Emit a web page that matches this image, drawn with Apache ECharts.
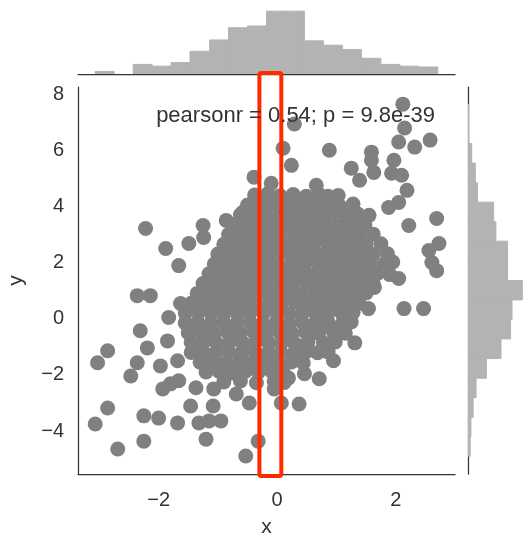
<!DOCTYPE html>
<html>
<head>
<meta charset="utf-8">
<style>
  html, body { margin: 0; padding: 0; background: #fff; }
  #chart { width: 523px; height: 534px; }
</style>
<script src="https://cdn.jsdelivr.net/npm/echarts@6/dist/echarts.min.js"></script>
</head>
<body>
<div id="chart"></div>
<script>
// marginal histogram of x: bin edges and counts
var xBinEdges = [-3.07, -2.75, -2.43, -2.11, -1.79, -1.47, -1.14, -0.82, -0.50, -0.18,
                 0.14, 0.46, 0.78, 1.10, 1.42, 1.75, 2.07, 2.39, 2.71];
var xCounts = [3, 0, 11, 9, 13, 26, 39, 53, 55, 72, 72, 38, 33, 28, 18, 11, 9, 8];

// marginal histogram of y (from bottom to top)
var yBinEdges = [-4.90, -4.20, -3.51, -2.81, -2.12, -1.42, -0.72, -0.03, 0.67, 1.36,
                 2.06, 2.76, 3.45, 4.15, 4.84, 5.54, 6.24, 6.93, 7.63];
var yCounts = [3, 4, 7, 11, 25, 45, 58, 60, 74, 54, 54, 38, 35, 13, 10, 5, 1, 1];

var xTicks = [-2, 0, 2];
var yTicks = [-4, -2, 0, 2, 4, 6, 8];
var statText = "pearsonr = 0.54; p = 9.8e-39";

// highlighted x band (the red box)
var bandX = [-0.30, 0.07];
var bandY = [-5.6, 8.75];

// scattered points away from the dense centre
var pointsOuter = [
  [2.12, 7.64], [0.29, 6.93], [2.15, 6.79], [2.05, 6.29], [2.32, 6.11], [2.58, 6.36],
  [0.88, 6.00], [0.10, 6.07], [1.59, 5.93], [1.59, 5.64], [1.97, 5.64], [1.25, 5.36],
  [1.63, 5.21], [1.93, 5.18], [2.10, 5.11], [1.39, 4.93], [2.19, 4.57], [0.66, 4.75],
  [1.03, 4.39], [1.88, 3.96], [2.05, 4.14], [2.69, 3.57], [2.22, 3.32], [2.56, 2.43],
  [2.73, 2.68], [2.69, 1.71], [2.61, 2.00], [0.24, 5.46], [-0.39, 5.04], [-0.10, 4.82],
  [-2.22, 3.21], [-1.88, 2.50], [-1.66, 1.89], [-1.49, 2.68], [-1.25, 3.32], [-1.24, 2.89],
  [-0.86, 3.50], [-0.58, 3.79],
  [-2.36, 0.82], [-2.14, 0.82], [-2.31, -0.43], [-2.86, -1.14], [-3.03, -1.57], [-2.47, -2.04],
  [-2.36, -1.57], [-2.19, -1.04], [-1.97, -1.68], [-1.83, 0.04], [-1.63, 0.54], [-1.85, -0.79],
  [-1.68, -1.50], [-1.93, -2.50], [-1.80, -2.32], [-1.66, -2.21], [-1.37, -2.46], [-1.46, -3.11],
  [-1.08, -3.11], [-1.07, -2.50], [-0.69, -2.68], [-0.47, -3.00], [-2.86, -3.18], [-3.07, -3.75],
  [-2.25, -3.46], [-2.00, -3.54], [-1.68, -3.71], [-1.32, -3.71], [-0.95, -3.64], [-1.15, -3.64],
  [-2.25, -4.36], [-2.69, -4.64], [-1.20, -4.29], [-0.53, -4.89], [-0.32, -4.36],
  [2.05, 1.43], [2.14, 0.36], [2.47, 0.36], [1.64, 1.11], [1.54, 0.36], [1.25, 0.29],
  [0.78, 0.18], [0.92, -0.32], [1.31, -0.86], [0.95, -1.50], [0.71, -2.14], [0.46, -1.96],
  [0.37, -3.04], [0.07, -3.00], [-0.05, -2.50], [0.19, -2.11]
];

// dense centre of the cloud
var pointsCore = [
  [-0.38, 4.40], [-0.16, 4.45], [0.05, 4.38], [0.27, 4.42], [0.49, 4.36], [0.70, 4.44], [0.86, 4.36],
  [-0.50, 4.05], [-0.28, 4.02], [-0.06, 4.08], [0.16, 4.03], [0.38, 4.07], [0.60, 4.01], [0.82, 4.06], [1.05, 4.02], [1.28, 4.08],
  [-0.62, 3.70], [-0.40, 3.72], [-0.18, 3.66], [0.04, 3.71], [0.26, 3.68], [0.48, 3.73], [0.70, 3.67], [0.92, 3.72], [1.14, 3.69], [1.35, 3.74], [1.55, 3.68],
  [-0.72, 3.35], [-0.50, 3.32], [-0.28, 3.38], [-0.06, 3.33], [0.16, 3.36], [0.38, 3.31], [0.60, 3.37], [0.82, 3.34], [1.04, 3.30], [1.26, 3.36], [1.48, 3.33],
  [-0.82, 3.00], [-0.60, 3.03], [-0.38, 2.97], [-0.16, 3.02], [0.06, 2.98], [0.28, 3.04], [0.50, 2.99], [0.72, 3.02], [0.94, 2.96], [1.16, 3.03], [1.38, 2.98], [1.62, 3.01],
  [-0.90, 2.65], [-0.70, 2.62], [-0.48, 2.68], [-0.26, 2.63], [-0.04, 2.66], [0.18, 2.61], [0.40, 2.67], [0.62, 2.64], [0.84, 2.69], [1.06, 2.62], [1.28, 2.66], [1.50, 2.63], [1.75, 2.67],
  [-1.00, 2.30], [-0.80, 2.33], [-0.58, 2.27], [-0.36, 2.31], [-0.14, 2.28], [0.08, 2.34], [0.30, 2.29], [0.52, 2.32], [0.74, 2.26], [0.96, 2.31], [1.18, 2.28], [1.40, 2.33], [1.62, 2.29], [1.86, 2.31],
  [-1.06, 1.95], [-0.86, 1.92], [-0.64, 1.98], [-0.42, 1.93], [-0.20, 1.96], [0.02, 1.91], [0.24, 1.97], [0.46, 1.94], [0.68, 1.99], [0.90, 1.92], [1.12, 1.96], [1.34, 1.93], [1.56, 1.98], [1.80, 1.94], [1.95, 2.02],
  [-1.15, 1.60], [-0.95, 1.63], [-0.73, 1.57], [-0.51, 1.61], [-0.29, 1.58], [-0.07, 1.64], [0.15, 1.59], [0.37, 1.62], [0.59, 1.56], [0.81, 1.61], [1.03, 1.58], [1.25, 1.63], [1.47, 1.59], [1.70, 1.62], [1.90, 1.57],
  [-1.25, 1.25], [-1.04, 1.22], [-0.82, 1.28], [-0.60, 1.23], [-0.38, 1.26], [-0.16, 1.21], [0.06, 1.27], [0.28, 1.24], [0.50, 1.29], [0.72, 1.22], [0.94, 1.26], [1.16, 1.23], [1.38, 1.28], [1.62, 1.24],
  [-1.35, 0.90], [-1.13, 0.93], [-0.91, 0.87], [-0.69, 0.91], [-0.47, 0.88], [-0.25, 0.94], [-0.03, 0.89], [0.19, 0.92], [0.41, 0.86], [0.63, 0.91], [0.85, 0.88], [1.07, 0.93], [1.29, 0.89], [1.50, 0.92],
  [-1.45, 0.55], [-1.24, 0.52], [-1.02, 0.58], [-0.80, 0.53], [-0.58, 0.56], [-0.36, 0.51], [-0.14, 0.57], [0.08, 0.54], [0.30, 0.59], [0.52, 0.52], [0.74, 0.56], [0.96, 0.53], [1.18, 0.58], [1.38, 0.54],
  [-1.55, 0.20], [-1.33, 0.23], [-1.11, 0.17], [-0.89, 0.21], [-0.67, 0.18], [-0.45, 0.24], [-0.23, 0.19], [-0.01, 0.22], [0.21, 0.16], [0.43, 0.21], [0.65, 0.18], [0.87, 0.23], [1.09, 0.19], [1.28, 0.22],
  [-1.55, -0.15], [-1.34, -0.12], [-1.12, -0.18], [-0.90, -0.13], [-0.68, -0.16], [-0.46, -0.11], [-0.24, -0.17], [-0.02, -0.14], [0.20, -0.19], [0.42, -0.12], [0.64, -0.16], [0.86, -0.13], [1.10, -0.17], [1.25, -0.12],
  [-1.50, -0.50], [-1.28, -0.47], [-1.06, -0.53], [-0.84, -0.48], [-0.62, -0.51], [-0.40, -0.46], [-0.18, -0.52], [0.04, -0.49], [0.26, -0.54], [0.48, -0.47], [0.70, -0.51], [0.95, -0.48], [1.15, -0.52],
  [-1.45, -0.85], [-1.24, -0.82], [-1.02, -0.88], [-0.80, -0.83], [-0.58, -0.86], [-0.36, -0.81], [-0.14, -0.87], [0.08, -0.84], [0.30, -0.89], [0.52, -0.82], [0.78, -0.86], [0.98, -0.83],
  [-1.45, -1.20], [-1.25, -1.17], [-1.04, -1.23], [-0.82, -1.18], [-0.60, -1.21], [-0.38, -1.16], [-0.16, -1.22], [0.06, -1.19], [0.28, -1.24], [0.50, -1.17], [0.68, -1.21], [0.86, -1.18],
  [-1.30, -1.55], [-1.08, -1.52], [-0.86, -1.58], [-0.64, -1.53], [-0.42, -1.56], [-0.20, -1.51], [0.02, -1.57], [0.24, -1.54], [0.44, -1.58],
  [-1.20, -1.90], [-0.98, -1.87], [-0.76, -1.93], [-0.54, -1.88], [-0.32, -1.91], [-0.10, -1.86], [0.10, -1.92],
  [-0.90, -2.25], [-0.62, -2.22], [-0.35, -2.28], [-0.05, -2.23], [0.12, -2.27]
];

var font = '"Liberation Sans", Arial, sans-serif';
var textColor = '#333333';
var spine = { show: true, onZero: false, lineStyle: { color: '#333333', width: 1.25 } };

function minusFmt(v) {
  return v < 0 ? '\u2212' + Math.abs(v) : String(v);
}

var chart = echarts.init(document.getElementById('chart'), null, { renderer: 'canvas' });

function barStyle() {
  return { fill: '#b3b3b3', stroke: '#b3b3b3', lineWidth: 1 };
}

var option = {
  animation: false,
  backgroundColor: '#ffffff',
  grid: [
    { left: 78, top: 87, width: 377, height: 387, outerBoundsMode: 'none', containLabel: false },
    { left: 78, top: 8, width: 377, height: 66, outerBoundsMode: 'none', containLabel: false },
    { left: 468, top: 87, width: 57, height: 387, outerBoundsMode: 'none', containLabel: false }
  ],
  xAxis: [
    {
      gridIndex: 0, type: 'value', min: -3.36, max: 3.0,
      axisLine: spine, axisTick: { show: false }, splitLine: { show: false },
      axisLabel: {
        customValues: xTicks, formatter: minusFmt, margin: 16,
        fontSize: 20, fontFamily: font, color: textColor
      },
      name: 'x', nameLocation: 'middle', nameGap: 43,
      nameTextStyle: { fontSize: 21, fontFamily: font, color: textColor }
    },
    {
      gridIndex: 1, type: 'value', min: -3.36, max: 3.0,
      axisLine: spine, axisTick: { show: false }, splitLine: { show: false },
      axisLabel: { show: false }
    },
    { gridIndex: 2, type: 'value', min: 0, max: 77.7, show: false }
  ],
  yAxis: [
    {
      gridIndex: 0, type: 'value', min: -5.53, max: 8.25,
      axisLine: spine, axisTick: { show: false }, splitLine: { show: false },
      axisLabel: {
        customValues: yTicks, formatter: minusFmt, margin: 14,
        fontSize: 20, fontFamily: font, color: textColor
      },
      name: 'y', nameLocation: 'middle', nameGap: 51,
      nameTextStyle: { fontSize: 21, fontFamily: font, color: textColor }
    },
    { gridIndex: 1, type: 'value', min: 0, max: 75.6, show: false },
    {
      gridIndex: 2, type: 'value', min: -5.53, max: 8.25,
      axisLine: spine, axisTick: { show: false }, splitLine: { show: false },
      axisLabel: { show: false }
    }
  ],
  series: [
    {
      type: 'scatter', xAxisIndex: 0, yAxisIndex: 0,
      data: pointsCore.concat(pointsOuter),
      symbolSize: 15, silent: true,
      itemStyle: { color: '#808080', opacity: 1 }
    },
    {
      // top histogram
      type: 'custom', xAxisIndex: 1, yAxisIndex: 1, silent: true,
      data: xCounts.map(function (c, i) { return [xBinEdges[i], xBinEdges[i + 1], c]; }),
      renderItem: function (params, api) {
        if (api.value(2) === 0) return null;
        var a = api.coord([api.value(0), api.value(2)]);
        var b = api.coord([api.value(1), 0]);
        return {
          type: 'rect',
          shape: { x: a[0], y: a[1], width: b[0] - a[0], height: b[1] - a[1] - 0.5 },
          style: barStyle()
        };
      }
    },
    {
      // right histogram
      type: 'custom', xAxisIndex: 2, yAxisIndex: 2, silent: true,
      data: yCounts.map(function (c, i) { return [yBinEdges[i], yBinEdges[i + 1], c]; }),
      renderItem: function (params, api) {
        var a = api.coord([0, api.value(1)]);
        var b = api.coord([api.value(2), api.value(0)]);
        return {
          type: 'rect',
          shape: { x: a[0] + 0.5, y: a[1], width: b[0] - a[0] - 0.5, height: b[1] - a[1] },
          style: barStyle()
        };
      }
    },
    {
      // red highlight box
      type: 'custom', xAxisIndex: 0, yAxisIndex: 0, silent: true, clip: false, z: 10,
      data: [[bandX[0], bandX[1], bandY[0], bandY[1]]],
      renderItem: function (params, api) {
        var a = api.coord([api.value(0), api.value(3)]);
        var b = api.coord([api.value(1), api.value(2)]);
        return {
          type: 'rect',
          shape: { x: a[0], y: a[1], width: b[0] - a[0], height: b[1] - a[1], r: 2 },
          style: { fill: 'none', stroke: '#ff2a00', lineWidth: 4 }
        };
      }
    }
  ],
  graphic: [
    {
      type: 'text', right: 88, top: 105, z: 20,
      style: { text: statText, font: '22px ' + font, fill: textColor }
    }
  ]
};

chart.setOption(option);
</script>
</body>
</html>
